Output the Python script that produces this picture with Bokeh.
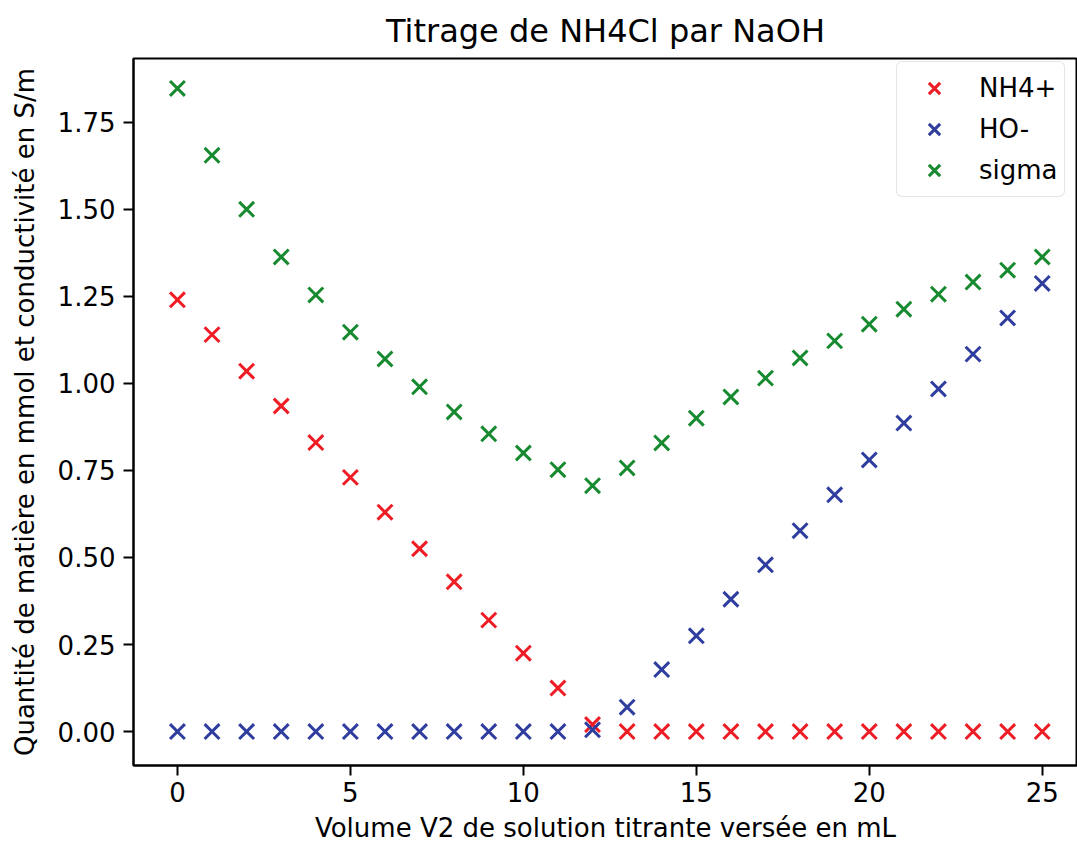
from bokeh.plotting import figure
from bokeh.models import Range1d, Legend, LegendItem, FixedTicker, NumeralTickFormatter
from bokeh.embed import file_html
from bokeh.resources import INLINE

volume = list(range(26))
nh4 = [1.24, 1.14, 1.035, 0.935, 0.83, 0.73, 0.63, 0.525, 0.43, 0.32, 0.225, 0.125, 0.02,
       0, 0, 0, 0, 0, 0, 0, 0, 0, 0, 0, 0, 0]
ho = [0, 0, 0, 0, 0, 0, 0, 0, 0, 0, 0, 0, 0.005,
      0.07, 0.178, 0.275, 0.38, 0.479, 0.577, 0.68, 0.78, 0.886, 0.984, 1.084, 1.188, 1.287]
sigma = [1.847, 1.655, 1.50, 1.363, 1.254, 1.147, 1.07, 0.99, 0.918, 0.855, 0.80, 0.752, 0.706,
         0.757, 0.829, 0.90, 0.961, 1.015, 1.073, 1.122, 1.17, 1.213, 1.256, 1.291, 1.325, 1.363]
x_ticks = [0, 5, 10, 15, 20, 25]
y_ticks = [0.0, 0.25, 0.5, 0.75, 1.0, 1.25, 1.5, 1.75]

FONT = "DejaVu Sans"

p = figure(width=1077, height=846, output_backend="svg", toolbar_location=None,
           x_range=Range1d(-1.27, 26.02), y_range=Range1d(-0.0975, 1.933),
           min_border_left=133, min_border_right=0, min_border_top=57, min_border_bottom=81)
p.title.text = "Titrage de NH4Cl par NaOH"
p.title.align = "center"
p.title.text_font = FONT
p.title.text_font_size = "32px"
p.title.text_font_style = "normal"
p.title.text_color = "black"
p.title.standoff = 18

p.grid.visible = False
p.outline_line_color = "black"
p.outline_line_width = 2

for ax in (p.xaxis[0], p.yaxis[0]):
    ax.major_label_text_font = FONT
    ax.major_label_text_font_size = "26px"
    ax.major_label_text_color = "black"
    ax.axis_label_text_font = FONT
    ax.axis_label_text_font_size = "26px"
    ax.axis_label_text_font_style = "normal"
    ax.axis_label_text_color = "black"
    ax.minor_tick_line_color = None
    ax.major_tick_out = 10
    ax.major_tick_in = 0
    ax.major_tick_line_width = 2
    ax.axis_line_width = 2

p.xaxis.ticker = FixedTicker(ticks=x_ticks)
p.yaxis.ticker = FixedTicker(ticks=y_ticks)
p.yaxis.formatter = NumeralTickFormatter(format="0.00")
p.xaxis.axis_label = "Volume V2 de solution titrante versée en mL"
p.yaxis.axis_label = "Quantité de matière en mmol et conductivité en S/m"
p.xaxis.major_label_standoff = 6
p.yaxis.major_label_standoff = 8
p.xaxis.axis_label_standoff = 8
p.yaxis.axis_label_standoff = 15

r1 = p.scatter(volume, nh4, marker="x", size=21, line_color="#ee1c24", line_width=3)
r2 = p.scatter(volume, ho, marker="x", size=21, line_color="#2e3d9e", line_width=3)
r3 = p.scatter(volume, sigma, marker="x", size=21, line_color="#178a30", line_width=3)

legend = Legend(items=[LegendItem(label="NH4+", renderers=[r1]),
                       LegendItem(label="HO-", renderers=[r2]),
                       LegendItem(label="sigma", renderers=[r3])],
                location=(763, 568))
legend.label_text_font = FONT
legend.label_text_font_size = "26px"
legend.label_text_color = "black"
legend.border_line_color = "#cccccc"
legend.border_line_width = 1.5
legend.border_radius = 6
legend.padding = 6
legend.spacing = 1
legend.margin = 0
legend.glyph_width = 62
legend.glyph_height = 40
legend.label_height = 40
legend.label_standoff = 14
p.add_layout(legend)

open("out.html", "w").write(file_html(p, INLINE))
